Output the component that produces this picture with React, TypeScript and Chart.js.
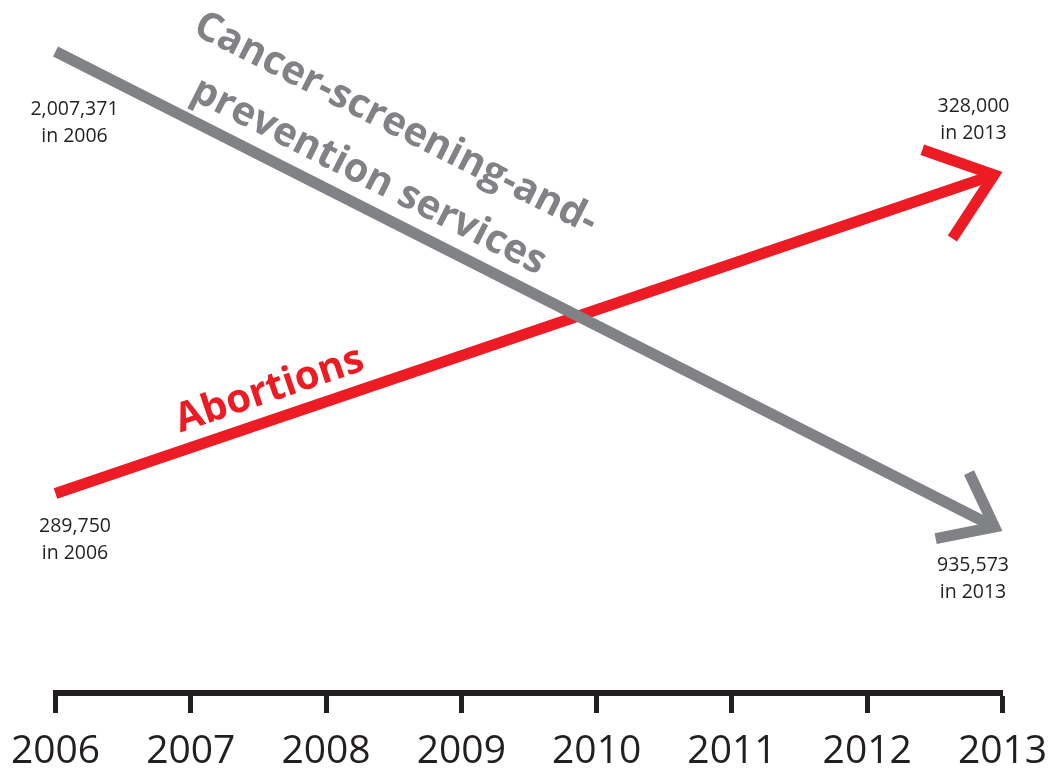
import React, { useEffect, useRef } from 'react';
import { Chart, registerables } from 'chart.js';

Chart.register(...registerables);

// ---- data ----
const years = [2006, 2013];
const cancerScreening = [2007371, 935573];
const abortions = [289750, 328000];
const tickYears = [2006, 2007, 2008, 2009, 2010, 2011, 2012, 2013];
const cancerLabelLines = ['Cancer-screening-and-', 'prevention services'];
const abortionLabelLines = ['Abortions'];

// ---- styles ----
const GRAY = '#808285';
const RED = '#ed1c24';
const INK = '#231f20';
const LINE_W = 11;
const ARROW_ANGLE = (38 * Math.PI) / 180;
const FONT = '"Open Sans", "DejaVu Sans", sans-serif';

const fmt = (v: number) => v.toLocaleString('en-US');

type Pt = { x: number; y: number };

function geom(meta: any) {
  const a: Pt = meta.data[0];
  const b: Pt = meta.data[meta.data.length - 1];
  const dx = b.x - a.x;
  const dy = b.y - a.y;
  const len = Math.hypot(dx, dy);
  const u = { x: dx / len, y: dy / len };
  const n = { x: u.y, y: -u.x }; // "above the line" normal
  return { a, b, u, n, len };
}

function rot(v: Pt, t: number): Pt {
  return { x: v.x * Math.cos(t) - v.y * Math.sin(t), y: v.x * Math.sin(t) + v.y * Math.cos(t) };
}

const decorPlugin = {
  id: 'decor',
  beforeDatasetDraw(chart: any, args: any) {
    const g = geom(args.meta);
    const miter = LINE_W / 2 / Math.sin(ARROW_ANGLE);
    const vx = g.b.x - g.u.x * miter;
    const vy = g.b.y - g.u.y * miter;
    const ctx = chart.ctx;
    const big = 5000;
    ctx.save();
    ctx.beginPath();
    ctx.moveTo(vx + g.n.x * big, vy + g.n.y * big);
    ctx.lineTo(vx - g.n.x * big, vy - g.n.y * big);
    ctx.lineTo(vx - g.n.x * big - g.u.x * big, vy - g.n.y * big - g.u.y * big);
    ctx.lineTo(vx + g.n.x * big - g.u.x * big, vy + g.n.y * big - g.u.y * big);
    ctx.closePath();
    ctx.clip();
  },
  afterDatasetDraw(chart: any, args: any) {
    const ctx = chart.ctx;
    ctx.restore();
    const ds = chart.data.datasets[args.index];
    const g = geom(args.meta);
    const miter = LINE_W / 2 / Math.sin(ARROW_ANGLE);
    const vx = g.b.x - g.u.x * miter;
    const vy = g.b.y - g.u.y * miter;
    const back = { x: -g.u.x, y: -g.u.y };
    const a1 = rot(back, ARROW_ANGLE);
    const a2 = rot(back, -ARROW_ANGLE);
    const L = ds.arrowLength;
    ctx.save();
    ctx.beginPath();
    ctx.moveTo(vx + a1.x * L, vy + a1.y * L);
    ctx.lineTo(vx, vy);
    ctx.lineTo(vx + a2.x * L, vy + a2.y * L);
    ctx.lineWidth = LINE_W;
    ctx.lineJoin = 'miter';
    ctx.lineCap = 'butt';
    ctx.strokeStyle = ds.borderColor;
    ctx.stroke();
    ctx.restore();
  },
  afterDatasetsDraw(chart: any) {
    const ctx = chart.ctx;
    chart.data.datasets.forEach((ds: any, i: number) => {
      const meta = chart.getDatasetMeta(i);
      const g = geom(meta);
      const angle = Math.atan2(g.u.y, g.u.x);
      // series name along the line
      ctx.save();
      ctx.fillStyle = ds.borderColor;
      ctx.font = `bold 40px ${FONT}`;
      ctx.textAlign = 'center';
      ctx.textBaseline = 'middle';
      ds.nameLines.forEach((line: string, k: number) => {
        const off = ds.nameOffsets[k];
        const px = g.a.x + g.u.x * ds.nameAlong + g.n.x * off;
        const py = g.a.y + g.u.y * ds.nameAlong + g.n.y * off;
        ctx.save();
        ctx.translate(px, py);
        ctx.rotate(angle);
        ctx.fillText(line, 0, 0);
        ctx.restore();
      });
      ctx.restore();
      // value notes at start and end
      ctx.save();
      ctx.fillStyle = INK;
      ctx.font = `19.5px ${FONT}`;
      ctx.textAlign = 'center';
      ctx.textBaseline = 'alphabetic';
      const notes = [
        { p: g.a, v: ds.data[0], off: ds.startNote },
        { p: g.b, v: ds.data[ds.data.length - 1], off: ds.endNote },
      ];
      notes.forEach((nt) => {
        const x = nt.p.x + nt.off[0];
        const y = nt.p.y + nt.off[1];
        ctx.fillText(fmt(nt.v.y), x, y);
        ctx.fillText(`in ${nt.v.x}`, x, y + 27);
      });
      ctx.restore();
    });
  },
};

export default function App() {
  const ref = useRef<HTMLCanvasElement | null>(null);

  useEffect(() => {
    if (!ref.current) return;
    const chart = new Chart(ref.current, {
      type: 'line',
      data: {
        datasets: [
          {
            label: cancerLabelLines.join(''),
            data: years.map((x, i) => ({ x, y: cancerScreening[i] })),
            borderColor: GRAY,
            borderWidth: LINE_W,
            borderCapStyle: 'butt',
            pointRadius: 0,
            tension: 0,
            clip: false,
            yAxisID: 'yCancer',
            arrowLength: 60,
            nameLines: cancerLabelLines,
            nameAlong: 336,
            nameOffsets: [89, 30],
            startNote: [19, 63.5],
            endNote: [-29.5, 40],
          } as any,
          {
            label: abortionLabelLines.join(''),
            data: years.map((x, i) => ({ x, y: abortions[i] })),
            borderColor: RED,
            borderWidth: LINE_W,
            borderCapStyle: 'butt',
            pointRadius: 0,
            tension: 0,
            clip: false,
            yAxisID: 'yAbort',
            arrowLength: 76,
            nameLines: abortionLabelLines,
            nameAlong: 236,
            nameOffsets: [29],
            startNote: [19.5, 38.5],
            endNote: [-29, -60],
          } as any,
        ],
      },
      options: {
        animation: false,
        responsive: true,
        maintainAspectRatio: false,
        layout: { padding: { left: 55.5, right: 53.5, top: 0, bottom: -19 } },
        plugins: { legend: { display: false }, tooltip: { enabled: false } },
        events: [],
        scales: {
          x: {
            type: 'linear',
            min: 2006,
            max: 2013,
            afterBuildTicks: (s: any) => {
              s.ticks = tickYears.map((v) => ({ value: v }));
            },
            grid: {
              drawOnChartArea: false,
              drawTicks: true,
              tickLength: 20,
              tickWidth: 5,
              tickColor: INK,
            },
            border: { display: true, width: 6, color: INK },
            ticks: {
              autoSkip: false,
              maxRotation: 0,
              minRotation: 0,
              padding: 0,
              color: INK,
              font: { family: FONT, size: 39, lineHeight: 2 },
              callback: (v: any) => String(v),
            },
          },
          yCancer: {
            type: 'linear',
            position: 'left',
            display: false,
            min: 573464,
            max: 2122486,
          },
          yAbort: {
            type: 'linear',
            position: 'left',
            display: false,
            min: 266015,
            max: 348463,
          },
        },
      } as any,
      plugins: [decorPlugin],
    });
    return () => chart.destroy();
  }, []);

  return (
    <div style={{ position: 'absolute', left: 0, top: 0, width: 1056, height: 772, background: '#fff' }}>
      <canvas ref={ref} />
    </div>
  );
}
